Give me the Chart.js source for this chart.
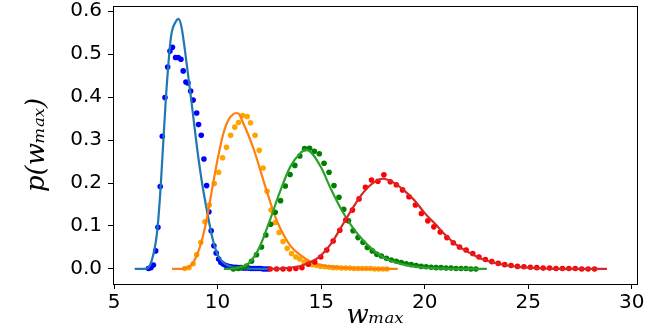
<!DOCTYPE html>
<html>
<head>
<meta charset="utf-8">
<script src="https://cdn.jsdelivr.net/npm/chart.js@4.4.1/dist/chart.umd.min.js"></script>
<style>
  html, body { margin: 0; padding: 0; background: #fff; }
  #wrap { width: 664px; height: 332px; }
</style>
</head>
<body>
<div id="wrap"><canvas id="chart" width="664" height="332"></canvas></div>
<script>
// tick labels
const xTicks = [5, 10, 15, 20, 25, 30];
const yTicks = [0, 0.1, 0.2, 0.3, 0.4, 0.5, 0.6];

// measured histogram points (dots)
const blueDotX = [6.66, 6.78, 6.90, 7.01, 7.12, 7.23, 7.33, 7.46, 7.59, 7.70, 7.82, 7.97, 8.10, 8.23, 8.34, 8.47, 8.57, 8.70, 8.82, 8.99, 9.08, 9.21, 9.34, 9.47, 9.58, 9.69, 9.82, 9.93, 10.05, 10.16, 10.28, 10.40, 10.52, 10.64, 10.76, 10.88, 11.00, 11.12, 11.24, 11.36, 11.48, 11.60, 11.72, 11.84, 11.96, 12.08, 12.20, 12.32, 12.44];
const blueDotY = [0.001, 0.003, 0.009, 0.042, 0.097, 0.192, 0.309, 0.399, 0.470, 0.507, 0.516, 0.492, 0.492, 0.488, 0.461, 0.435, 0.433, 0.414, 0.393, 0.363, 0.336, 0.311, 0.256, 0.194, 0.133, 0.089, 0.054, 0.037, 0.023, 0.015, 0.011, 0.008, 0.006, 0.005, 0.004, 0.004, 0.003, 0.003, 0.002, 0.002, 0.002, 0.001, 0.001, 0.001, 0.001, 0.001, 0, 0, 0];

const orangeDotX = [8.42, 8.62, 8.82, 8.99, 9.19, 9.39, 9.60, 9.84, 10.05, 10.24, 10.43, 10.63, 10.83, 11.01, 11.21, 11.43, 11.59, 11.81, 12.01, 12.20, 12.39, 12.58, 12.78, 12.97, 13.16, 13.36, 13.57, 13.78, 13.97, 14.18, 14.38, 14.58, 14.78, 14.98, 15.18, 15.38, 15.58, 15.78, 15.98, 16.18, 16.38, 16.58, 16.78, 16.98, 17.18, 17.38, 17.58, 17.78, 17.98, 18.18];
const orangeDotY = [0.001, 0.003, 0.012, 0.033, 0.062, 0.110, 0.149, 0.199, 0.225, 0.259, 0.283, 0.311, 0.330, 0.341, 0.357, 0.355, 0.340, 0.311, 0.276, 0.235, 0.181, 0.137, 0.108, 0.085, 0.064, 0.048, 0.036, 0.028, 0.023, 0.016, 0.012, 0.010, 0.008, 0.006, 0.005, 0.004, 0.003, 0.003, 0.002, 0.002, 0.002, 0.001, 0.001, 0.001, 0.001, 0.001, 0, 0, 0, 0];

const greenDotX = [10.76, 11.00, 11.18, 11.40, 11.64, 11.88, 12.12, 12.33, 12.56, 12.78, 13.04, 13.27, 13.50, 13.73, 13.97, 14.20, 14.44, 14.67, 14.91, 15.14, 15.38, 15.62, 15.86, 16.09, 16.32, 16.54, 16.78, 17.02, 17.23, 17.47, 17.69, 17.91, 18.15, 18.39, 18.63, 18.87, 19.11, 19.35, 19.59, 19.83, 20.07, 20.31, 20.55, 20.79, 21.03, 21.27, 21.51, 21.75, 21.99, 22.23, 22.47];
const greenDotY = [0, 0.001, 0.003, 0.007, 0.018, 0.033, 0.051, 0.079, 0.104, 0.132, 0.159, 0.193, 0.220, 0.241, 0.263, 0.280, 0.281, 0.274, 0.268, 0.246, 0.225, 0.194, 0.167, 0.139, 0.112, 0.089, 0.073, 0.062, 0.050, 0.042, 0.034, 0.030, 0.025, 0.021, 0.018, 0.015, 0.012, 0.010, 0.008, 0.006, 0.005, 0.004, 0.003, 0.003, 0.002, 0.002, 0.001, 0.001, 0.001, 0, 0];

const redDotX = [12.54, 12.85, 13.16, 13.47, 13.78, 14.07, 14.38, 14.69, 14.98, 15.27, 15.58, 15.90, 16.19, 16.51, 16.83, 17.14, 17.43, 17.74, 18.03, 18.34, 18.63, 18.93, 19.24, 19.55, 19.84, 20.15, 20.44, 20.75, 21.07, 21.38, 21.68, 22.00, 22.32, 22.62, 22.93, 23.24, 23.55, 23.86, 24.17, 24.48, 24.79, 25.10, 25.41, 25.72, 26.03, 26.34, 26.65, 26.96, 27.27, 27.58, 27.89, 28.20];
const redDotY = [0, 0, 0, 0, 0.001, 0.003, 0.011, 0.016, 0.028, 0.044, 0.065, 0.090, 0.114, 0.137, 0.163, 0.190, 0.207, 0.204, 0.219, 0.203, 0.196, 0.184, 0.168, 0.149, 0.129, 0.112, 0.098, 0.086, 0.073, 0.061, 0.051, 0.044, 0.036, 0.028, 0.022, 0.017, 0.013, 0.010, 0.008, 0.006, 0.005, 0.004, 0.003, 0.002, 0.002, 0.001, 0.001, 0.001, 0.001, 0, 0, 0];

// fitted curves
const blueFitX = [6.0, 6.5, 6.75, 7.0, 7.1, 7.25, 7.5, 7.75, 8.0, 8.1, 8.25, 8.5, 8.75, 9.0, 9.25, 9.5, 9.75, 10.0, 10.25, 10.5, 11.0, 11.5, 12.0, 12.6];
const blueFitY = [0, 0, 0.01, 0.058, 0.095, 0.19, 0.395, 0.54, 0.577, 0.582, 0.565, 0.48, 0.385, 0.285, 0.2, 0.132, 0.072, 0.033, 0.016, 0.008, 0.002, 0.001, 0, 0];

const orangeFitX = [7.8, 8.25, 8.5, 8.75, 9.0, 9.25, 9.5, 9.75, 10.0, 10.25, 10.5, 10.75, 10.9, 11.0, 11.25, 11.5, 11.75, 12.0, 12.25, 12.5, 12.75, 13.0, 13.5, 14.0, 14.5, 15.0, 16.0, 17.0, 18.0, 18.7];
const orangeFitY = [0, 0, 0.002, 0.01, 0.032, 0.068, 0.122, 0.19, 0.255, 0.31, 0.345, 0.36, 0.363, 0.362, 0.338, 0.31, 0.278, 0.24, 0.2, 0.162, 0.126, 0.097, 0.055, 0.032, 0.017, 0.009, 0.003, 0.001, 0, 0];

const greenFitX = [10.3, 10.75, 11.0, 11.5, 12.0, 12.5, 13.0, 13.5, 14.0, 14.25, 14.5, 15.0, 15.5, 16.0, 16.5, 17.0, 17.5, 18.0, 18.5, 19.0, 20.0, 21.0, 22.0, 23.0];
const greenFitY = [0, 0.001, 0.003, 0.013, 0.048, 0.11, 0.178, 0.237, 0.27, 0.277, 0.272, 0.236, 0.183, 0.136, 0.098, 0.068, 0.045, 0.027, 0.017, 0.01, 0.003, 0.001, 0, 0];

const redFitX = [12.5, 13.0, 13.5, 14.0, 14.5, 15.0, 15.5, 16.0, 16.5, 17.0, 17.5, 18.0, 18.5, 19.0, 19.5, 20.0, 20.5, 21.0, 21.5, 22.0, 22.5, 23.0, 23.5, 24.0, 24.5, 25.0, 26.0, 27.0, 28.8];
const redFitY = [0, 0.001, 0.003, 0.007, 0.016, 0.032, 0.06, 0.1, 0.14, 0.176, 0.2, 0.21, 0.201, 0.183, 0.16, 0.13, 0.105, 0.079, 0.057, 0.042, 0.029, 0.019, 0.013, 0.008, 0.005, 0.003, 0.001, 0, 0];

const toPts = (xs, ys) => xs.map((x, i) => ({ x: x, y: ys[i] }));

const dots = (data, color, order) => ({
    data: data,
    showLine: false,
    pointRadius: 2.8,
    pointBorderWidth: 0,
    pointBackgroundColor: color,
    pointBorderColor: color,
    order: order
});

const curve = (data, color, order) => ({
    data: data,
    showLine: true,
    borderColor: color,
    borderWidth: 2.2,
    pointRadius: 0,
    cubicInterpolationMode: 'monotone',
    fill: false,
    order: order
});

// draws the top/right frame like matplotlib's box
const framePlugin = {
    id: 'frame',
    afterDatasetsDraw(chart) {
        const { ctx, chartArea: a } = chart;
        ctx.save();
        ctx.strokeStyle = '#000';
        ctx.lineWidth = 1;
        ctx.strokeRect(a.left + 0.5, a.top + 0.5, a.right - a.left, a.bottom - a.top);
        ctx.restore();
    }
};

const tickFont = { family: 'DejaVu Sans', size: 20 };
const titleFont = { family: 'DejaVu Serif', size: 26, style: 'italic' };

new Chart(document.getElementById('chart').getContext('2d'), {
    type: 'scatter',
    data: {
        datasets: [
            dots(toPts(blueDotX, blueDotY), '#0000ff', 8),
            curve(toPts(blueFitX, blueFitY), '#1f77b4', 7),
            dots(toPts(orangeDotX, orangeDotY), '#ffa500', 6),
            curve(toPts(orangeFitX, orangeFitY), '#ff7f0e', 5),
            dots(toPts(greenDotX, greenDotY), '#008000', 4),
            curve(toPts(greenFitX, greenFitY), '#2ca02c', 3),
            dots(toPts(redDotX, redDotY), '#ff0000', 2),
            curve(toPts(redFitX, redFitY), '#d62728', 1)
        ]
    },
    options: {
        responsive: false,
        animation: false,
        layout: { padding: { left: 0, right: 27, top: 6, bottom: 0 } },
        plugins: {
            legend: { display: false },
            tooltip: { enabled: false }
        },
        scales: {
            x: {
                type: 'linear',
                min: 4.95,
                max: 30.25,
                afterBuildTicks: (scale) => { scale.ticks = xTicks.map(v => ({ value: v })); },
                afterFit: (scale) => { scale.height = 48; scale.paddingLeft = 0; scale.paddingRight = 0; },
                ticks: { color: '#000', font: tickFont, padding: 2, maxRotation: 0, callback: (v) => String(v) },
                grid: { display: true, drawOnChartArea: false, drawTicks: true, tickLength: 5, color: '#000' },
                border: { color: '#000', width: 1 },
                title: { display: true, text: 'wₘₐₓ', color: '#000', font: titleFont, padding: { top: -4, bottom: 0 } }
            },
            y: {
                type: 'linear',
                min: -0.035,
                max: 0.612,
                afterBuildTicks: (scale) => { scale.ticks = yTicks.map(v => ({ value: v })); },
                afterFit: (scale) => { scale.width = 113; scale.paddingTop = 0; scale.paddingBottom = 0; },
                ticks: { color: '#000', font: tickFont, padding: 6, callback: (v) => v.toFixed(1) },
                grid: { display: true, drawOnChartArea: false, drawTicks: true, tickLength: 5, color: '#000' },
                border: { color: '#000', width: 1 },
                title: { display: true, text: 'p(wₘₐₓ)', color: '#000', font: titleFont, padding: { top: 22, bottom: 0 } }
            }
        }
    },
    plugins: [framePlugin]
});
</script>
</body>
</html>
